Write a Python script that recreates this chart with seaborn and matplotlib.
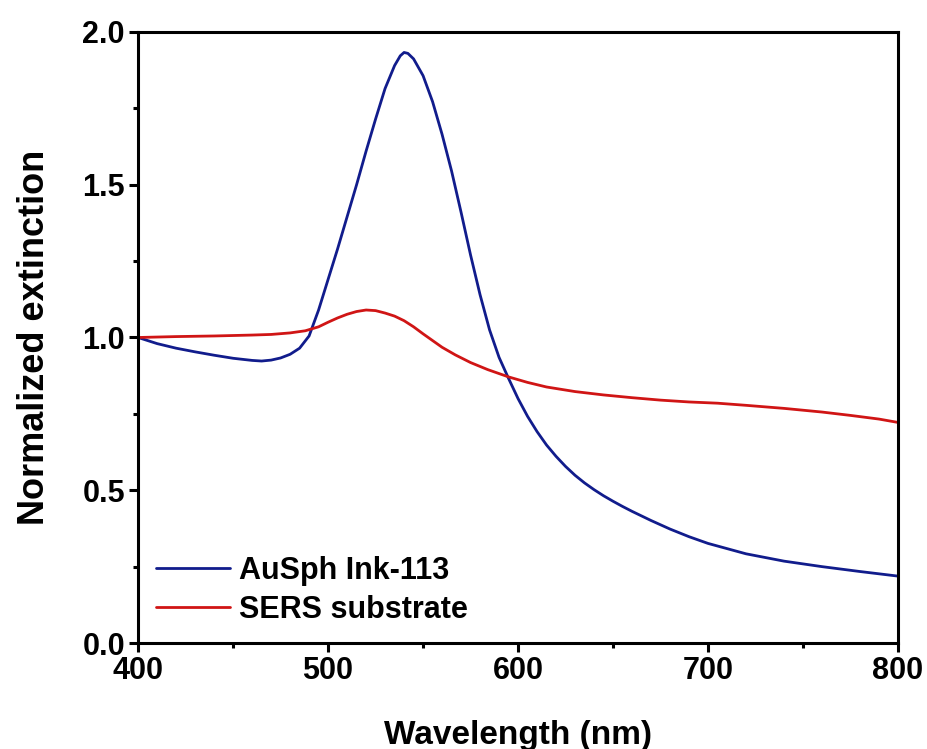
import pandas as pd
import matplotlib
matplotlib.use("Agg")
import matplotlib.pyplot as plt
import seaborn as sns
from matplotlib.ticker import MultipleLocator, FormatStrFormatter

# Dados
wl_ausph = [400, 410, 420, 430, 440, 450, 460, 465, 470, 475, 480, 485, 490, 495,
            500, 505, 510, 515, 520, 525, 530, 535, 538, 540, 542, 545, 550, 555,
            560, 565, 570, 575, 580, 585, 590, 595, 600, 605, 610, 615, 620, 625,
            630, 635, 640, 645, 650, 655, 660, 670, 680, 690, 700, 720, 740, 760,
            780, 800]
ext_ausph = [1.0, 0.98, 0.965, 0.953, 0.942, 0.932, 0.925, 0.923, 0.926, 0.933, 0.945,
             0.965, 1.005, 1.09, 1.19, 1.29, 1.395, 1.50, 1.61, 1.715, 1.815, 1.89,
             1.922, 1.933, 1.93, 1.912, 1.857, 1.772, 1.665, 1.545, 1.41, 1.27, 1.14,
             1.025, 0.935, 0.866, 0.80, 0.742, 0.692, 0.648, 0.611, 0.578, 0.549,
             0.524, 0.502, 0.482, 0.464, 0.447, 0.431, 0.401, 0.373, 0.348, 0.326,
             0.292, 0.268, 0.25, 0.234, 0.219]

wl_sers = [400, 420, 440, 460, 470, 480, 488, 495, 500, 505, 510, 515, 520, 525,
           530, 535, 540, 545, 550, 555, 560, 567, 575, 584, 595, 605, 615, 630,
           645, 660, 675, 690, 705, 720, 740, 760, 775, 790, 800]
ext_sers = [1.0, 1.003, 1.005, 1.008, 1.01, 1.015, 1.022, 1.035, 1.05, 1.064, 1.076,
            1.085, 1.09, 1.088, 1.08, 1.07, 1.055, 1.035, 1.012, 0.99, 0.968, 0.943,
            0.918, 0.895, 0.871, 0.853, 0.838, 0.823, 0.812, 0.803, 0.795, 0.789,
            0.785, 0.778, 0.768, 0.756, 0.745, 0.733, 0.722]

df = pd.concat([
    pd.DataFrame({"Wavelength": wl_ausph, "Ext": ext_ausph, "Amostra": "AuSph Ink-113"}),
    pd.DataFrame({"Wavelength": wl_sers, "Ext": ext_sers, "Amostra": "SERS substrate"}),
])

sns.set_style("ticks")
plt.rcParams['font.family'] = ['Liberation Sans', 'DejaVu Sans']
plt.rcParams['font.weight'] = 'bold'
for k in ['text.color', 'axes.labelcolor', 'xtick.color', 'ytick.color', 'axes.edgecolor']:
    plt.rcParams[k] = 'black'

fig = plt.figure(figsize=(9.27, 7.49), dpi=100)
ax = fig.add_axes([0.149, 0.1415, 0.8197, 0.8158])

sns.lineplot(data=df, x="Wavelength", y="Ext", hue="Amostra",
             palette=["#111c8c", "#d01515"], linewidth=2.0, ax=ax, sort=False)

ax.set_xlim(400, 800)
ax.set_ylim(0, 2.0)
ax.xaxis.set_major_locator(MultipleLocator(100))
ax.xaxis.set_minor_locator(MultipleLocator(50))
ax.yaxis.set_major_locator(MultipleLocator(0.5))
ax.yaxis.set_minor_locator(MultipleLocator(0.25))
ax.yaxis.set_major_formatter(FormatStrFormatter('%.1f'))

for s in ax.spines.values():
    s.set_linewidth(2.2)
    s.set_visible(True)
ax.tick_params(which='major', direction='out', length=6.5, width=2.2,
               labelsize=22, pad=3, top=False, right=False)
ax.tick_params(which='minor', direction='out', length=3.5, width=2.2,
               top=False, right=False)
for lab in ax.get_xticklabels() + ax.get_yticklabels():
    lab.set_fontweight('bold')

ax.set_xlabel("Wavelength (nm)", fontsize=24, fontweight='bold', labelpad=24)
ax.set_ylabel("Normalized extinction", fontsize=26, fontweight='bold', labelpad=22)

leg = ax.legend(loc='lower left', frameon=False, fontsize=22, handlelength=2.4,
                handletextpad=0.3, borderaxespad=0.2, labelspacing=0.3,
                bbox_to_anchor=(0.0, 0.0))
for t in leg.get_texts():
    t.set_fontweight('bold')
for l in leg.get_lines():
    l.set_linewidth(2.0)

fig.savefig("out.png", dpi=100)
